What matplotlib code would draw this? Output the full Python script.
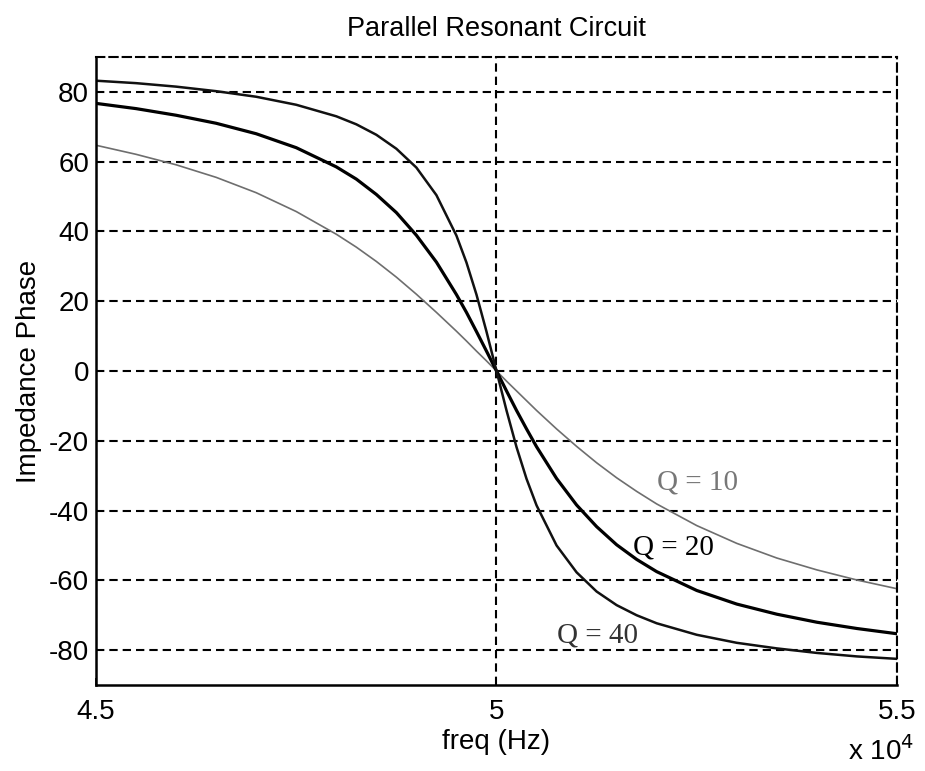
import numpy as np
import matplotlib
matplotlib.use("Agg")
from matplotlib import pyplot as plt

# frequency samples (Hz) and phase readings (degrees) for each Q
freq = [45000, 45500, 46000, 46500, 47000, 47500, 48000, 48250, 48500, 48750,
        49000, 49250, 49500, 49625, 49750, 49875, 50000, 50125, 50250, 50375,
        50500, 50750, 51000, 51250, 51500, 51750, 52000, 52500, 53000, 53500,
        54000, 54500, 55000]

phase_q10 = [64.7, 62.1, 59.1, 55.5, 51.1, 45.7, 39.2, 35.5, 31.4, 26.9,
             22.0, 16.8, 11.4, 8.6, 5.7, 2.9, 0.0, -2.9, -5.7, -8.5,
             -11.3, -16.6, -21.6, -26.3, -30.6, -34.5, -38.1, -44.3, -49.4, -53.6,
             -57.0, -59.9, -62.4]

phase_q20 = [76.7, 75.2, 73.3, 71.0, 68.0, 64.0, 58.5, 55.0, 50.6, 45.4,
             38.9, 31.2, 21.9, 16.8, 11.3, 5.7, 0.0, -5.7, -11.3, -16.6,
             -21.7, -30.8, -38.4, -44.6, -49.8, -54.0, -57.5, -62.9, -66.8, -69.7,
             -72.0, -73.8, -75.3]

phase_q40 = [83.2, 82.5, 81.5, 80.2, 78.6, 76.3, 73.0, 70.7, 67.7, 63.7,
             58.3, 50.4, 38.8, 31.1, 21.9, 11.3, 0.0, -11.3, -21.8, -30.9,
             -38.5, -50.0, -57.7, -63.2, -67.1, -70.0, -72.3, -75.6, -77.9, -79.5,
             -80.8, -81.8, -82.5]

x_ticks = [45000, 50000, 55000]
x_tick_labels = ["4.5", "5", "5.5"]
y_ticks = [-80, -60, -40, -20, 0, 20, 40, 60, 80]

plt.rcParams['font.family'] = ['Liberation Sans', 'DejaVu Sans']
plt.rcParams['axes.unicode_minus'] = False

fig = plt.figure(figsize=(9.25, 7.71), dpi=100)
ax = fig.add_axes([0.1038, 0.1115, 0.8659, 0.8146])

dash = (0, (4, 2.4))
ax.grid(True, color='black', linestyle=dash, linewidth=1.5)
ax.set_axisbelow(True)

ax.plot(freq, phase_q10, color='#6e6e6e', lw=1.2)
ax.plot(freq, phase_q20, color='black', lw=2.3)
ax.plot(freq, phase_q40, color='#111111', lw=1.8)

ax.set_xlim(45000, 55000)
ax.set_ylim(-90, 90)
ax.set_xticks(x_ticks)
ax.set_xticklabels(x_tick_labels)
ax.set_yticks(y_ticks)
ax.tick_params(direction='in', length=5, width=1.2, labelsize=20)
ax.tick_params(axis='x', pad=10)
ax.tick_params(axis='y', pad=5)

for side in ['top', 'right']:
    ax.spines[side].set_linestyle(dash)
    ax.spines[side].set_linewidth(1.5)
for side in ['left', 'bottom']:
    ax.spines[side].set_linewidth(1.8)

ax.set_title("Parallel Resonant Circuit", fontsize=19.5, pad=15)
ax.set_xlabel("freq (Hz)", fontsize=20, labelpad=3)
ax.set_ylabel("Impedance Phase", fontsize=20, labelpad=5)
fig.text(0.917, 0.006, r"x 10$^4$", fontsize=20, ha='left', va='bottom')

# curve labels
serif = ['Liberation Serif', 'DejaVu Serif']
ax.text(52000, -32, "Q = 10", family=serif, fontsize=21, color='#777777', va='center')
ax.text(51700, -50.7, "Q = 20", family=serif, fontsize=21, color='black', va='center')
ax.text(50750, -75.7, "Q = 40", family=serif, fontsize=21, color='#333333', va='center')

fig.savefig("out.png", dpi=100)
